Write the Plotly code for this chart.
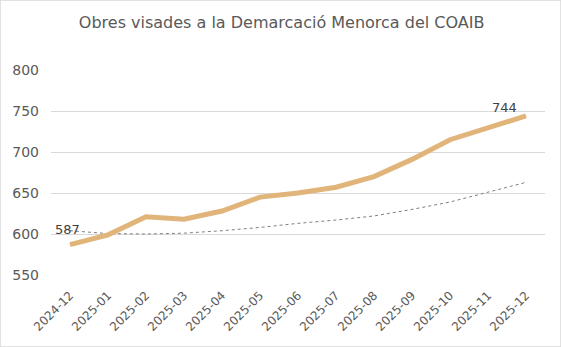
import plotly.graph_objects as go

months = ["2024-12", "2025-01", "2025-02", "2025-03", "2025-04", "2025-05", "2025-06",
          "2025-07", "2025-08", "2025-09", "2025-10", "2025-11", "2025-12"]
obres = [587, 599, 621, 618, 628, 645, 650, 657, 670, 691, 715, 730, 744]
tendencia = [604, 600.5, 600, 601, 604, 608, 613, 617, 622, 630, 639, 651, 663]
y_ticks = [550, 600, 650, 700, 750, 800]

title_text = "Obres visades a la Demarcació Menorca del COAIB"
font_family = "'DejaVu Sans', sans-serif"
grey = "#595959"

fig = go.Figure()
fig.add_trace(go.Scatter(
    x=months, y=tendencia, mode="lines",
    line=dict(color="#7f7f7f", width=1, dash="3px,3px"),
    hoverinfo="skip", showlegend=False))
fig.add_trace(go.Scatter(
    x=months, y=obres, mode="lines",
    line=dict(color="#E1B47A", width=5),
    showlegend=False))

# data labels for first and last points
for idx, xs, ys in [(0, -3, 15), (len(obres) - 1, -22, 8)]:
    fig.add_annotation(x=months[idx], y=obres[idx], text=str(obres[idx]),
                       showarrow=False, xshift=xs, yshift=ys,
                       font=dict(family=font_family, size=13, color="#404040"))

fig.update_layout(
    width=561, height=347,
    margin=dict(l=51, r=16, t=70, b=72),
    paper_bgcolor="white", plot_bgcolor="white",
    title=dict(text=title_text, x=0.502, xanchor="center", y=0.935, yanchor="middle",
               font=dict(family=font_family, size=16, color=grey)),
    xaxis=dict(type="category", range=[-0.5, 12.5], tickangle=-45,
               tickfont=dict(family=font_family, size=12, color=grey),
               ticklabelstandoff=10,
               showgrid=False, showline=False, ticks="", zeroline=False),
    yaxis=dict(range=[550, 800], tickvals=y_ticks, showgrid=True, gridcolor="#d9d9d9",
               gridwidth=1, zeroline=False, showline=False, ticks="",
               ticklabelstandoff=11,
               tickfont=dict(family=font_family, size=14, color=grey)),
    shapes=[dict(type="rect", xref="paper", yref="paper", x0=-51/494, x1=1+16/494,
                 y0=-72/205, y1=1+70/205, line=dict(color="#d9d9d9", width=1.5))],
)
fig.write_html("out.html")
